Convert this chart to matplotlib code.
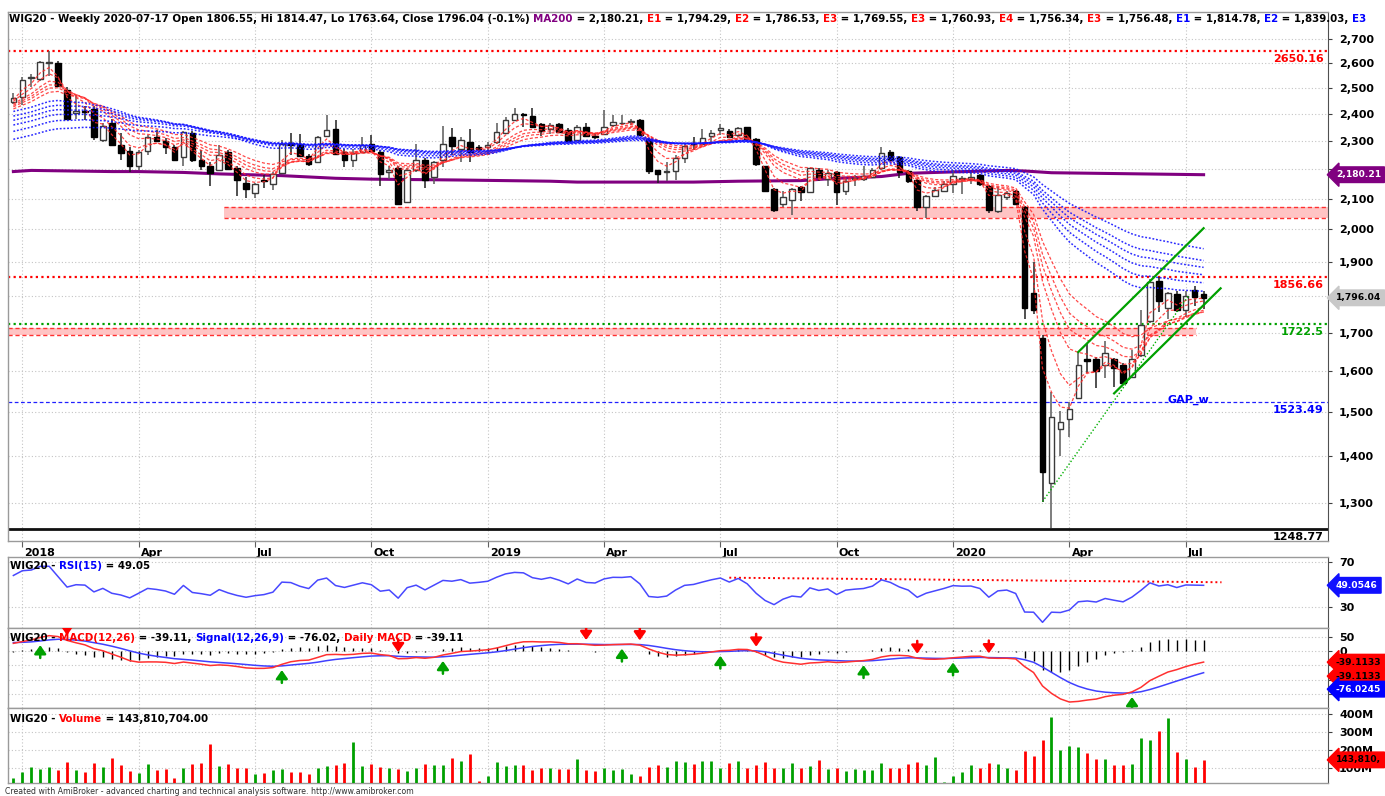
import numpy as np
import pandas as pd
import matplotlib
matplotlib.use('Agg')
import matplotlib.pyplot as plt
import matplotlib.transforms as mtrans
from matplotlib.font_manager import FontProperties
from matplotlib.ticker import NullLocator, NullFormatter

# ---------------- data (weekly WIG20) ----------------
first_week = '2017-12-29'
opens = [2446, 2465, 2538, 2534, 2600, 2601, 2491, 2404, 2411, 2419,
         2302, 2365, 2284, 2262, 2209, 2262, 2315, 2299, 2278, 2242,
         2327, 2230, 2212, 2198, 2258, 2205, 2152, 2117, 2163, 2150,
         2186, 2291, 2290, 2244, 2224, 2318, 2343, 2260, 2233, 2260,
         2290, 2260, 2191, 2205, 2090, 2196, 2230, 2172, 2230, 2313,
         2272, 2296, 2278, 2276, 2294, 2329, 2378, 2398, 2391, 2362,
         2343, 2362, 2340, 2302, 2352, 2316, 2324, 2358, 2364, 2370,
         2378, 2305, 2196, 2189, 2194, 2237, 2292, 2288, 2318, 2341,
         2337, 2321, 2349, 2305, 2209, 2132, 2081, 2094, 2137, 2122,
         2198, 2165, 2190, 2126, 2165, 2165, 2172, 2205, 2260, 2242,
         2194, 2163, 2071, 2108, 2126, 2148, 2165, 2166, 2178, 2141,
         2060, 2105, 2124, 2072, 1811, 1685, 1342, 1460, 1483, 1534,
         1631, 1631, 1616, 1631, 1616, 1586, 1640, 1732, 1845, 1768,
         1806, 1762, 1818, 1806.55]
highs = [2480, 2544, 2555, 2609, 2650, 2606, 2504, 2470, 2430, 2428,
         2365, 2380, 2327, 2278, 2266, 2320, 2340, 2309, 2284, 2334,
         2334, 2266, 2224, 2284, 2266, 2212, 2172, 2153, 2178, 2190,
         2302, 2327, 2324, 2254, 2318, 2394, 2376, 2272, 2272, 2313,
         2321, 2266, 2212, 2209, 2202, 2290, 2237, 2228, 2355, 2345,
         2315, 2343, 2285, 2296, 2365, 2389, 2420, 2402, 2420, 2367,
         2367, 2367, 2346, 2358, 2367, 2327, 2414, 2395, 2395, 2382,
         2380, 2309, 2198, 2224, 2248, 2288, 2315, 2343, 2340, 2362,
         2343, 2352, 2352, 2309, 2212, 2135, 2126, 2135, 2142, 2205,
         2205, 2196, 2194, 2166, 2178, 2212, 2205, 2278, 2266, 2245,
         2198, 2165, 2111, 2137, 2160, 2198, 2176, 2190, 2184, 2146,
         2137, 2124, 2129, 2075, 1901, 1695, 1549, 1503, 1523, 1650,
         1669, 1637, 1679, 1634, 1620, 1654, 1763, 1850, 1857, 1813,
         1816, 1816, 1830, 1814.47]
lows = [2437, 2433, 2504, 2528, 2545, 2503, 2378, 2382, 2376, 2302,
        2296, 2280, 2233, 2190, 2196, 2248, 2296, 2254, 2230, 2212,
        2224, 2196, 2142, 2196, 2198, 2109, 2101, 2101, 2136, 2127,
        2184, 2248, 2241, 2212, 2220, 2315, 2251, 2206, 2206, 2256,
        2260, 2142, 2167, 2078, 2086, 2190, 2136, 2150, 2206, 2250,
        2224, 2224, 2260, 2248, 2290, 2324, 2376, 2352, 2349, 2318,
        2324, 2329, 2296, 2300, 2315, 2305, 2321, 2352, 2357, 2358,
        2318, 2184, 2153, 2160, 2163, 2220, 2266, 2284, 2293, 2321,
        2313, 2315, 2300, 2212, 2120, 2057, 2073, 2047, 2092, 2120,
        2160, 2142, 2078, 2111, 2142, 2160, 2170, 2198, 2227, 2170,
        2153, 2058, 2036, 2104, 2120, 2117, 2115, 2148, 2142, 2051,
        2051, 2094, 2081, 1738, 1751, 1303, 1249, 1401, 1443, 1532,
        1595, 1557, 1583, 1560, 1568, 1583, 1637, 1727, 1756, 1737,
        1756, 1743, 1773, 1763.64]
closes = [2461, 2531, 2542, 2602, 2603, 2507, 2381, 2411, 2406, 2314,
          2355, 2283, 2256, 2209, 2258, 2313, 2299, 2278, 2233, 2331,
          2230, 2211, 2186, 2249, 2200, 2161, 2132, 2148, 2158, 2181,
          2290, 2285, 2244, 2216, 2313, 2340, 2254, 2230, 2256, 2283,
          2262, 2184, 2196, 2081, 2198, 2230, 2163, 2224, 2290, 2280,
          2302, 2260, 2270, 2283, 2333, 2378, 2399, 2395, 2352, 2337,
          2357, 2333, 2300, 2349, 2318, 2313, 2352, 2368, 2367, 2374,
          2321, 2194, 2184, 2193, 2240, 2280, 2288, 2309, 2329, 2345,
          2315, 2346, 2305, 2216, 2126, 2062, 2106, 2132, 2120, 2202,
          2172, 2186, 2120, 2160, 2169, 2175, 2196, 2256, 2233, 2190,
          2158, 2073, 2108, 2129, 2150, 2175, 2170, 2171, 2150, 2062,
          2111, 2118, 2083, 1768, 1763, 1366, 1489, 1476, 1507, 1616,
          1627, 1601, 1647, 1607, 1571, 1630, 1722, 1842, 1788, 1809,
          1762, 1801, 1798, 1796.04]
volume_m = [44, 74, 104, 91, 104, 85, 130, 85, 74, 125,
            104, 153, 115, 81, 70, 119, 85, 91, 40, 100,
            119, 125, 235, 110, 119, 97, 97, 66, 70, 85,
            91, 76, 74, 63, 97, 110, 115, 125, 246, 110,
            119, 104, 97, 91, 81, 97, 119, 115, 115, 156,
            135, 174, 28, 51, 132, 110, 115, 115, 85, 97,
            100, 91, 91, 149, 85, 81, 97, 85, 91, 63,
            51, 104, 115, 104, 135, 130, 119, 135, 135, 100,
            125, 135, 100, 115, 130, 97, 97, 125, 100, 110,
            143, 91, 97, 81, 91, 85, 85, 128, 97, 97,
            119, 132, 115, 159, 20, 51, 74, 115, 100, 125,
            119, 97, 85, 194, 168, 256, 383, 199, 222, 215,
            181, 149, 150, 115, 115, 119, 265, 256, 306, 377,
            187, 149, 104, 143.81]

# 200-week moving average (bar index, value)
ma200_idx = [0, 2, 11, 14, 19, 23, 30, 32, 36, 40, 50, 60, 63, 76, 81, 88, 92, 97, 100, 103, 111, 113, 116, 121, 133]
ma200_val = [2191, 2195, 2191, 2191, 2188, 2183, 2177, 2174, 2168, 2165, 2162, 2158, 2155, 2155, 2158, 2160, 2168,
             2174, 2185, 2188, 2195, 2193, 2187, 2185, 2180.21]

# Guppy EMA periods and their values before the first bar
short_periods = [3, 5, 8, 10, 12, 15]
short_seeds = [2445, 2440, 2430, 2425, 2420, 2412]
long_periods = [30, 35, 40, 45, 50, 60]
long_seeds = [2405, 2387, 2371, 2353, 2329, 2300]

macd_seeds = {'ema12': 2420, 'ema26': 2395, 'signal': 30}
rsi_seed = {'prev_close': 2440, 'gain': 26, 'loss': 20}

buy_idx = [3, 30, 48, 68, 79, 95, 105, 125]
sell_idx = [6, 43, 64, 70, 83, 101, 109]

levels = {'top': 2650.16, 'res': 1856.66, 'sup': 1722.5, 'gap': 1523.49, 'low': 1248.77}
zone1 = (23.5, 2036, 2072)     # start bar, low, high
zone2 = (132.1, 1694, 1713)    # end bar, low, high
chan_upper = ([119, 133], [1649, 2004])
chan_lower = ([123, 134.9], [1545, 1823])
chan_dotted = ([115, 131.4], [1303, 1805])
rsi_trend = ([80, 135], [55.9, 51.8])

# ---------------- helpers ----------------
o = np.array(opens, float); h = np.array(highs, float)
l = np.array(lows, float); c = np.array(closes, float)
v = np.array(volume_m, float)
n = len(c)
x = np.arange(n)
dates = pd.date_range(first_week, periods=n, freq='W-FRI')


def ema_seeded(vals, period, seed):
    k = 2.0 / (period + 1)
    out = np.empty(len(vals))
    prev = seed
    for i, val in enumerate(vals):
        prev = prev + k * (val - prev)
        out[i] = prev
    return out


def rsi_wilder(vals, period, prev_close, g0, l0):
    out = np.empty(len(vals))
    g, lo, p = g0, l0, prev_close
    for i, val in enumerate(vals):
        d = val - p
        g = (g * (period - 1) + max(d, 0)) / period
        lo = (lo * (period - 1) + max(-d, 0)) / period
        out[i] = 100 - 100 / (1 + g / lo)
        p = val
    return out


W, H = 1385, 796
fig = plt.figure(figsize=(W / 100, H / 100), dpi=100)
fig.patch.set_facecolor('white')
LX, RX = 8, 1328


def add_ax(top, bottom, **kw):
    return fig.add_axes([LX / W, 1 - bottom / H, (RX - LX) / W, (bottom - top) / H], **kw)


ax_p = add_ax(12, 541)
ax_r = add_ax(557, 628, sharex=ax_p)
ax_m = add_ax(628, 708, sharex=ax_p)
ax_v = add_ax(708, 783, sharex=ax_p)

GRID = dict(color='#c4c4c4', ls=(0, (1, 2)), lw=0.8)
TICKFONT = dict(fontsize=8, fontweight='bold')
TAGSIZE = 6.6

tick_idx = [i for i in range(1, n) if dates[i].month in (1, 4, 7, 10) and dates[i].month != dates[i - 1].month]
tick_lab = [str(dates[i].year) if dates[i].month == 1 else dates[i].strftime('%b') for i in tick_idx]

for ax in (ax_p, ax_r, ax_m, ax_v):
    ax.set_facecolor('white')
    ax.yaxis.tick_right()
    ax.tick_params(axis='y', direction='out', length=3, pad=5, colors='#404040', labelcolor='black')
    for s in ('left', 'top', 'bottom'):
        ax.spines[s].set_color('#9a9a9a')
        ax.spines[s].set_linewidth(1)
    ax.spines['right'].set_color('#505050')
    ax.set_axisbelow(True)
    for t in tick_idx:
        ax.axvline(t, zorder=0, **GRID)

ax_p.set_xlim(-0.6, 146.9)
ax_p.set_xticks(tick_idx, labels=tick_lab, **TICKFONT)
ax_p.tick_params(axis='x', direction='out', length=4, pad=1, colors='#606060', labelcolor='black')
off = mtrans.ScaledTranslation(1.5 / 72, 0, fig.dpi_scale_trans)
for lab in ax_p.get_xticklabels():
    lab.set_horizontalalignment('left')
    lab.set_transform(lab.get_transform() + off)
for ax in (ax_r, ax_m, ax_v):
    ax.tick_params(axis='x', bottom=False, labelbottom=False)

# ---------------- price panel ----------------
ax_p.set_yscale('log')
ax_p.set_ylim(1224.5, 2817)
pticks = list(range(1300, 2701, 100))
covered = (1800, 2200)   # labels hidden behind the value tags in the reference
ax_p.set_yticks(pticks, labels=['' if t in covered else f'{t:,}' for t in pticks], **TICKFONT)
ax_p.yaxis.set_minor_locator(NullLocator())
ax_p.yaxis.set_minor_formatter(NullFormatter())
for t in pticks:
    ax_p.axhline(t, zorder=0, **GRID)

# zones
ax_p.fill_between([zone1[0], 146.9], zone1[1], zone1[2], color='#ffc4c4', zorder=1, lw=0)
ax_p.hlines([zone1[1], zone1[2]], zone1[0], 146.9, colors='#ff3030', linestyles=(0, (3, 2)), lw=1, zorder=1.5)
ax_p.fill_between([-0.6, zone2[0]], zone2[1], zone2[2], color='#ffc4c4', zorder=1, lw=0)
ax_p.hlines([zone2[1], zone2[2]], -0.6, zone2[0], colors='#ff3030', linestyles=(0, (3, 2)), lw=1, zorder=1.5)

# horizontal levels
ax_p.axhline(levels['top'], color='#ff0000', ls=(0, (1, 1.5)), lw=1.6, zorder=2)
ax_p.axhline(levels['res'], color='#ff0000', ls=(0, (1, 1.5)), lw=1.6, zorder=2)
ax_p.axhline(levels['sup'], color='#00a000', ls=(0, (1, 1.5)), lw=1.6, zorder=2)
ax_p.axhline(levels['gap'], color='#2020ff', ls=(0, (3, 2)), lw=0.9, zorder=2)
ax_p.axhline(levels['low'], color='#101010', ls='-', lw=2, zorder=2)

# MA200
ax_p.plot(ma200_idx, ma200_val, color='#800080', lw=2.2, zorder=3)

# candles
up = c >= o
blo = np.minimum(o, c); bhi = np.maximum(o, c)
ax_p.vlines(x[up], l[up], h[up], color='#5a5a5a', lw=1.1, zorder=4)
ax_p.vlines(x[~up], l[~up], h[~up], color='#202020', lw=1.1, zorder=4)
ax_p.bar(x[up], bhi[up] - blo[up], bottom=blo[up], width=0.62, color='white', edgecolor='#3a3a3a', lw=1.0, zorder=5)
ax_p.bar(x[~up], bhi[~up] - blo[~up], bottom=blo[~up], width=0.62, color='black', edgecolor='black', lw=1.0, zorder=5)

# Guppy EMAs
for p_, s_ in zip(short_periods, short_seeds):
    ax_p.plot(x, ema_seeded(c, p_, s_), color='#ff2a2a', lw=0.9, ls=(0, (2.5, 1.6)), alpha=0.85, zorder=6)
for p_, s_ in zip(long_periods, long_seeds):
    ax_p.plot(x, ema_seeded(c, p_, s_), color='#1414ff', lw=1.1, ls=(0, (1.2, 1.2)), alpha=0.9, zorder=6)

# channel
ax_p.plot(*chan_upper, color='#00a000', lw=1.6, zorder=7)
ax_p.plot(*chan_lower, color='#00a000', lw=1.6, zorder=7)
ax_p.plot(*chan_dotted, color='#00b000', lw=1.0, ls=(0, (1, 1.5)), zorder=7)


# level labels
def level_label(val, txt, col, dy=-8):
    ax_p.annotate(txt, xy=(0.9965, val), xycoords=('axes fraction', 'data'), xytext=(0, dy),
                  textcoords='offset pixels', ha='right', va='center', color=col, fontsize=8,
                  fontweight='bold', zorder=9)


level_label(levels['top'], '2650.16', '#ff0000')
level_label(levels['res'], '1856.66', '#ff0000')
level_label(levels['sup'], '1722.5', '#00a000')
level_label(levels['gap'], '1523.49', '#0000ff')
level_label(levels['low'], '1248.77', 'black')
ax_p.annotate('GAP_w', xy=(129.0, levels['gap']), xycoords='data', xytext=(0, 2), textcoords='offset pixels',
              ha='left', va='center', color='#0000ff', fontsize=8, fontweight='bold', zorder=9)


def value_tag(ax, yval, txt, fc, tc, dy=0):
    ax.annotate(txt, xy=(1.0, yval), xycoords=('axes fraction', 'data'), xytext=(8, dy),
                textcoords='offset pixels', ha='left', va='center', color=tc, fontsize=TAGSIZE,
                fontweight='bold', bbox=dict(boxstyle='larrow,pad=0.36', fc=fc, ec=fc),
                annotation_clip=False, zorder=20)


value_tag(ax_p, 2180.21, '2,180.21', '#800080', 'white')
value_tag(ax_p, c[-1], f'{c[-1]:,.2f}', '#c8c8c8', 'black')

# ---------------- RSI ----------------
rsi = rsi_wilder(c, 15, rsi_seed['prev_close'], rsi_seed['gain'], rsi_seed['loss'])
ax_r.set_ylim(10.7, 74.5)
ax_r.set_yticks([30, 70], labels=['30', '70'], **TICKFONT)
for t in (30, 70):
    ax_r.axhline(t, zorder=0, **GRID)
ax_r.plot(x, rsi, color='#4848ff', lw=1.1, zorder=3)
ax_r.plot(*rsi_trend, color='#ff0000', ls=(0, (1, 1.5)), lw=1.4, zorder=2)
value_tag(ax_r, rsi[-1], '49.0546', '#1010ff', 'white')

# ---------------- MACD ----------------
e12 = ema_seeded(c, 12, macd_seeds['ema12'])
e26 = ema_seeded(c, 26, macd_seeds['ema26'])
macd = e12 - e26
sig = ema_seeded(macd, 9, macd_seeds['signal'])
hist = macd - sig
ax_m.set_ylim(-199, 80)
mt = [50, 0, -50, -100, -150]
ax_m.set_yticks(mt, labels=['50', '0', '', '', ''], **TICKFONT)
for t in mt:
    ax_m.axhline(t, zorder=0, **GRID)
ax_m.vlines(x, 0, hist, color='black', lw=1.0, zorder=2)
ax_m.plot(x, sig, color='#4040ff', lw=1.1, zorder=3)
ax_m.plot(x, macd, color='#ff3030', lw=1.1, zorder=4)
for i in buy_idx:
    a = ax_m.annotate('', xy=(i, min(macd[i], sig[i])), xycoords='data', xytext=(0, -17),
                      textcoords='offset pixels',
                      arrowprops=dict(arrowstyle='-|>,head_length=0.5,head_width=0.35', color='#00a000',
                                      lw=1.8, shrinkA=0, shrinkB=3))
    a.arrow_patch.set_clip_box(ax_m.bbox)
for i in sell_idx:
    a = ax_m.annotate('', xy=(i, max(macd[i], sig[i])), xycoords='data', xytext=(0, 17),
                      textcoords='offset pixels',
                      arrowprops=dict(arrowstyle='-|>,head_length=0.5,head_width=0.35', color='#ff0000',
                                      lw=1.8, shrinkA=0, shrinkB=3))
    a.arrow_patch.set_clip_box(ax_m.bbox)
value_tag(ax_m, -39.11, '-39.1133', '#ff0000', 'black')
value_tag(ax_m, -39.11, '-39.1133', '#ff0000', 'black', dy=-14)
value_tag(ax_m, -39.11, '-76.0245', '#0000ff', 'white', dy=-27)

# ---------------- Volume ----------------
vcol = np.where(up, '#00a000', '#ff0000')
ax_v.set_ylim(14, 435)
vt = [100, 200, 300, 400]
ax_v.set_yticks(vt, labels=[f'{t}M' for t in vt], **TICKFONT)
for t in vt:
    ax_v.axhline(t, zorder=0, **GRID)
ax_v.vlines(x, 0, v, colors=vcol, lw=2.0, zorder=3)
value_tag(ax_v, v[-1], '143,810,', '#ff0000', 'black')

# ---------------- titles ----------------
renderer = fig.canvas.get_renderer()


def text_w(s, prop):
    return renderer.get_text_width_height_descent(s, prop, ismath=False)[0]


def chain(x_px, y_px, pieces, size):
    prop = FontProperties(family='DejaVu Sans', weight='bold', size=size)
    base = text_w('||', prop)
    prefix = ''
    for s, col in pieces:
        dx = (text_w('|' + prefix + '|', prop) - base) if prefix else 0
        fig.text((x_px + dx) / W, 1 - y_px / H, s, color=col, fontproperties=prop, ha='left', va='baseline')
        prefix += s


title = [(f"WIG20 - Weekly {dates[-1].strftime('%Y-%m-%d')} Open {o[-1]:.2f}, Hi {h[-1]:.2f}, "
          f"Lo {l[-1]:.2f}, Close {c[-1]:.2f} (-0.1%) ", 'black'),
         ('MA200', '#800080'), (' = 2,180.21, ', 'black'),
         ('E1', '#ff0000'), (' = 1,794.29, ', 'black'),
         ('E2', '#ff0000'), (' = 1,786.53, ', 'black'),
         ('E3', '#ff0000'), (' = 1,769.55, ', 'black'),
         ('E3', '#ff0000'), (' = 1,760.93, ', 'black'),
         ('E4', '#ff0000'), (' = 1,756.34, ', 'black'),
         ('E3', '#ff0000'), (' = 1,756.48, ', 'black'),
         ('E1', '#0000ff'), (' = 1,814.78, ', 'black'),
         ('E2', '#0000ff'), (' = 1,839.03, ', 'black'),
         ('E3', '#0000ff')]
full = ''.join(s for s, _ in title)
p10 = FontProperties(family='DejaVu Sans', weight='bold', size=10)
size = 10 * 1366 / (text_w('|' + full + '|', p10) - text_w('||', p10))

chain(9, 22, title, size)
chain(10, 569, [('WIG20 - ', 'black'), ('RSI(15)', '#0000ff'), (' = 49.05', 'black')], size)
chain(10, 641, [('WIG20 - ', 'black'), ('MACD(12,26)', '#ff0000'), (' = -39.11, ', 'black'),
                ('Signal(12,26,9)', '#0000ff'), (' = -76.02, ', 'black'), ('Daily MACD', '#ff0000'),
                (' = -39.11', 'black')], size)
chain(10, 722, [('WIG20 - ', 'black'), ('Volume', '#ff0000'), (' = 143,810,704.00', 'black')], size)

fig.text(5 / W, 1 - 792 / H,
         'Created with AmiBroker - advanced charting and technical analysis software. http://www.amibroker.com',
         fontsize=5.6, color='#303030', ha='left', va='center')

fig.savefig('out.png', dpi=100, facecolor='white')
